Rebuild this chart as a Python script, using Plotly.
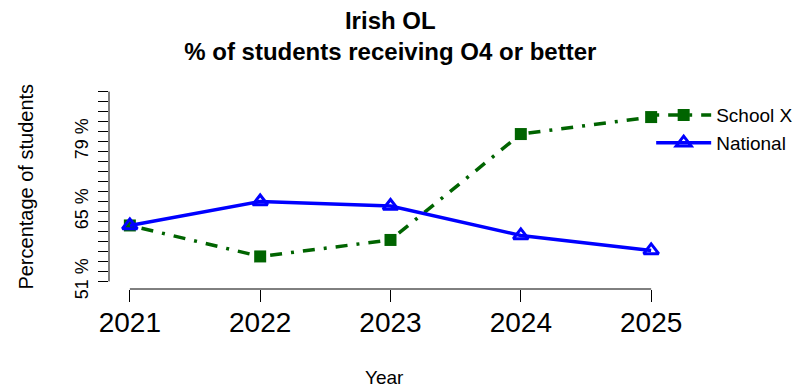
import plotly.graph_objects as go

years = [2021, 2022, 2023, 2024, 2025]
school_x = [62.2, 56.0, 59.3, 80.5, 83.9]
national = [62.2, 67.0, 66.1, 60.2, 57.2]
y_ticks = list(range(51, 90, 2))
y_labels = [f"{v} %" if v in (51, 65, 79) else "" for v in y_ticks]
x_labels = [str(y) for y in years]

FONT = "Liberation Sans, Arial, Helvetica, sans-serif"

fig = go.Figure()
fig.add_trace(go.Scatter(
    x=years, y=school_x, name="School X", mode="lines+markers",
    line=dict(color="#006400", width=3.5, dash="3px,9px,12px,9px"),
    marker=dict(symbol="square", size=12, color="#006400"),
))
fig.add_trace(go.Scatter(
    x=years, y=national, name="National", mode="lines+markers",
    line=dict(color="#0000ff", width=3.5),
    marker=dict(symbol="triangle-up-open", size=13, color="#0000ff",
                line=dict(width=3, color="#0000ff")),
))

fig.update_layout(
    width=799, height=389,
    margin=dict(l=109, r=127, t=84, b=100, autoexpand=False),
    paper_bgcolor="white", plot_bgcolor="white",
    font=dict(family=FONT, size=18, color="black"),
    title=dict(text="<b>Irish OL<br>% of students receiving O4 or better</b>",
               x=0.4885, xanchor="center", y=0.926, yanchor="top",
               font=dict(size=24, family=FONT)),
    showlegend=True,
    legend=dict(x=0.963, y=0.941, xanchor="left", yanchor="top",
                bgcolor="rgba(0,0,0,0)", font=dict(size=19),
                itemwidth=55, tracegroupgap=0),
    xaxis=dict(range=[2020.84, 2025.16], tickvals=years, ticktext=x_labels,
               showgrid=False, zeroline=False, showline=False,
               ticks="outside", ticklen=12, tickwidth=1, tickcolor="black",
               tickfont=dict(size=28), ticklabelstandoff=-4),
    yaxis=dict(range=[49.48, 90.52], tickvals=y_ticks, ticktext=y_labels,
               showgrid=False, zeroline=False, showline=False,
               ticks="outside", ticklen=10, tickwidth=1, tickcolor="black",
               tickangle=-90, tickfont=dict(size=18), ticklabelstandoff=3),
    shapes=[
        dict(type="line", xref="x", yref="paper", x0=years[0], x1=years[-1],
             y0=0, y1=0, line=dict(color="black", width=1)),
        dict(type="line", xref="paper", yref="y", x0=0, x1=0,
             y0=y_ticks[0], y1=y_ticks[-1], line=dict(color="black", width=1)),
    ],
    annotations=[
        dict(text="Year", xref="paper", yref="paper", x=0.4885, y=-0.43,
             xanchor="center", yanchor="middle", showarrow=False,
             font=dict(size=19)),
        dict(text="Percentage of students", xref="paper", yref="paper",
             x=-0.149, y=0.5, xanchor="center", yanchor="middle",
             textangle=-90, showarrow=False, font=dict(size=20)),
    ],
)

fig.write_html("out.html", config={"displayModeBar": False},
               post_script="document.body.style.margin='0';")
